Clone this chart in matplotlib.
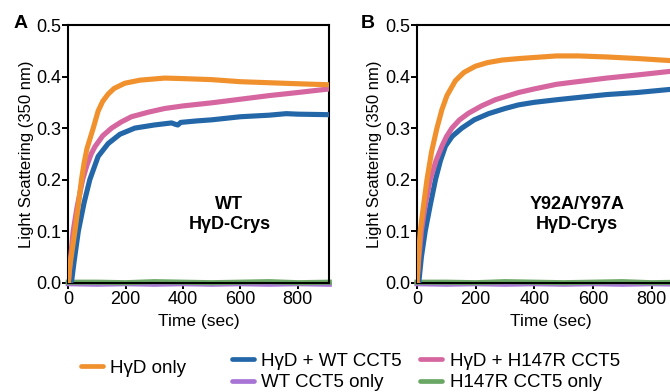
import matplotlib
matplotlib.use("Agg")
import matplotlib.pyplot as plt
from matplotlib.lines import Line2D

plt.rcParams['font.family'] = ['Liberation Sans', 'DejaVu Sans']

# ---- data ----
# Panel A: WT HγD-Crys
t_orange_a = [0, 5, 10, 23, 35, 46, 55, 65, 87, 104, 120, 139, 160, 197, 250, 336, 400, 500, 600, 700, 800, 910]
orange_a = [0.0, 0.03, 0.05, 0.10, 0.15, 0.20, 0.232, 0.26, 0.30, 0.333, 0.352, 0.366, 0.377, 0.387, 0.393, 0.397, 0.396, 0.394, 0.390, 0.388, 0.386, 0.384]
t_pink_a = [0, 5, 10, 17, 30, 50, 65, 80, 93, 120, 151, 185, 220, 280, 336, 400, 500, 600, 700, 800, 910]
pink_a = [0.0, 0.03, 0.06, 0.10, 0.145, 0.20, 0.228, 0.25, 0.264, 0.285, 0.30, 0.312, 0.322, 0.331, 0.338, 0.343, 0.349, 0.356, 0.363, 0.369, 0.376]
t_blue_a = [0, 8, 12, 20, 35, 55, 75, 104, 139, 180, 232, 300, 360, 375, 382, 392, 450, 500, 600, 700, 760, 800, 910]
blue_a = [0.0, 0.0, 0.005, 0.04, 0.10, 0.155, 0.20, 0.245, 0.27, 0.288, 0.30, 0.306, 0.31, 0.307, 0.306, 0.311, 0.314, 0.316, 0.322, 0.325, 0.328, 0.327, 0.326]

# Panel B: Y92A/Y97A HγD-Crys
t_orange_b = [0, 5, 11, 20, 34, 50, 68, 85, 102, 131, 160, 199, 240, 290, 350, 400, 476, 550, 646, 750, 862, 910]
orange_b = [0.0, 0.05, 0.10, 0.14, 0.20, 0.255, 0.30, 0.336, 0.363, 0.392, 0.408, 0.42, 0.427, 0.432, 0.435, 0.437, 0.44, 0.44, 0.438, 0.435, 0.431, 0.43]
t_pink_b = [0, 5, 15, 28, 45, 65, 85, 100, 119, 145, 176, 220, 267, 346, 400, 476, 560, 646, 750, 862, 910]
pink_b = [0.0, 0.04, 0.10, 0.15, 0.20, 0.237, 0.265, 0.283, 0.30, 0.316, 0.329, 0.343, 0.355, 0.369, 0.376, 0.385, 0.391, 0.397, 0.403, 0.41, 0.412]
t_blue_b = [0, 6, 15, 28, 45, 63, 80, 97, 120, 153, 195, 244, 300, 346, 400, 476, 560, 646, 750, 862, 910]
blue_b = [0.0, 0.0, 0.05, 0.10, 0.15, 0.20, 0.237, 0.265, 0.284, 0.30, 0.316, 0.328, 0.338, 0.345, 0.35, 0.355, 0.36, 0.365, 0.369, 0.375, 0.376]

# Controls (CCT5 alone), flat near zero
t_flat = [0, 100, 200, 300, 400, 500, 600, 700, 800, 910]
purple_a = [-0.002, -0.003, -0.002, -0.003, -0.002, -0.003, -0.002, -0.003, -0.002, -0.003]
green_a = [0.001, 0.001, 0.0, 0.002, 0.001, 0.0, 0.001, 0.002, 0.0, 0.001]
purple_b = [-0.002, -0.003, -0.002, -0.003, -0.002, -0.003, -0.002, -0.003, -0.002, -0.003]
green_b = [0.001, 0.001, 0.0, 0.002, 0.001, 0.0, 0.001, 0.002, 0.0, 0.001]

series_labels = ["H\u03b3D only", "H\u03b3D + WT CCT5", "H\u03b3D + H147R CCT5", "WT CCT5 only", "H147R CCT5 only"]
panel_titles = ["WT\nH\u03b3D-Crys", "Y92A/Y97A\nH\u03b3D-Crys"]
panel_letters = ["A", "B"]
x_ticks = [0, 200, 400, 600, 800]
y_ticks = [0.0, 0.1, 0.2, 0.3, 0.4, 0.5]

c_orange = '#f0912e'
c_blue = '#2467a8'
c_pink = '#d5669f'
c_purple = '#a774d6'
c_green = '#6aa764'

fig = plt.figure(figsize=(6.7, 3.92), dpi=100)
axA = fig.add_axes([68.3/670, 1-282.7/392, 261/670, 257.7/392])
axB = fig.add_axes([417/670, 1-282.7/392, 267/670, 257.7/392])

datasets = [
    (axA, t_orange_a, orange_a, t_pink_a, pink_a, t_blue_a, blue_a, purple_a, green_a, 562),
    (axB, t_orange_b, orange_b, t_pink_b, pink_b, t_blue_b, blue_b, purple_b, green_b, 545),
]
lw = 3.7
for i, (ax, to, o, tp, p, tb, b, pu, g, tx) in enumerate(datasets):
    ax.plot(t_flat, pu, color=c_purple, lw=lw, clip_on=False, zorder=2)
    ax.plot(t_flat, g, color=c_green, lw=lw, clip_on=False, zorder=2.1)
    ax.plot(tb, b, color=c_blue, lw=lw, zorder=3)
    ax.plot(tp, p, color=c_pink, lw=lw, zorder=3.1)
    ax.plot(to, o, color=c_orange, lw=lw, zorder=3.2)
    ax.set_xlim(0, 910)
    ax.set_ylim(0, 0.5)
    ax.set_xticks(x_ticks)
    ax.set_yticks(y_ticks)
    ax.set_yticklabels([f"{v:.1f}" for v in y_ticks])
    ax.tick_params(axis='y', direction='out', length=4, width=1.4, labelsize=13, pad=0.8)
    ax.tick_params(axis='x', direction='out', length=4, width=1.4, labelsize=13, pad=2)
    for s in ax.spines.values():
        s.set_linewidth(1.5)
    ax.set_xlabel("Time (sec)", fontsize=12.5, labelpad=4)
    ax.set_ylabel("Light Scattering (350 nm)", fontsize=12, labelpad=2)
    ax.text(tx, 0.132, panel_titles[i], ha='center', va='center',
            fontsize=13, fontweight='bold', linespacing=1.25)

fig.text(20.5/670, 1-23/392, panel_letters[0], fontsize=14, fontweight='bold', ha='center', va='center')
fig.text(368/670, 1-23/392, panel_letters[1], fontsize=14, fontweight='bold', ha='center', va='center')

hkw = dict(lw=3.4, solid_capstyle='round')
h_orange = Line2D([], [], color=c_orange, **hkw)
h_blue = Line2D([], [], color=c_blue, **hkw)
h_pink = Line2D([], [], color=c_pink, **hkw)
h_purple = Line2D([], [], color=c_purple, **hkw)
h_green = Line2D([], [], color=c_green, **hkw)

leg_kw = dict(frameon=False, fontsize=13.5, handlelength=1.15, handletextpad=0.4,
              labelspacing=0.25, borderpad=0, borderaxespad=0)
fig.legend(handles=[h_orange], labels=[series_labels[0]], loc='center left',
           bbox_to_anchor=(81/670, 1-368/392), **leg_kw)
fig.legend(handles=[h_blue, h_purple, h_pink, h_green],
           labels=[series_labels[1], series_labels[3], series_labels[2], series_labels[4]],
           ncol=2, columnspacing=1.0, loc='center left',
           bbox_to_anchor=(232/670, 1-372/392), **leg_kw)

fig.savefig("out.png", dpi=100)
